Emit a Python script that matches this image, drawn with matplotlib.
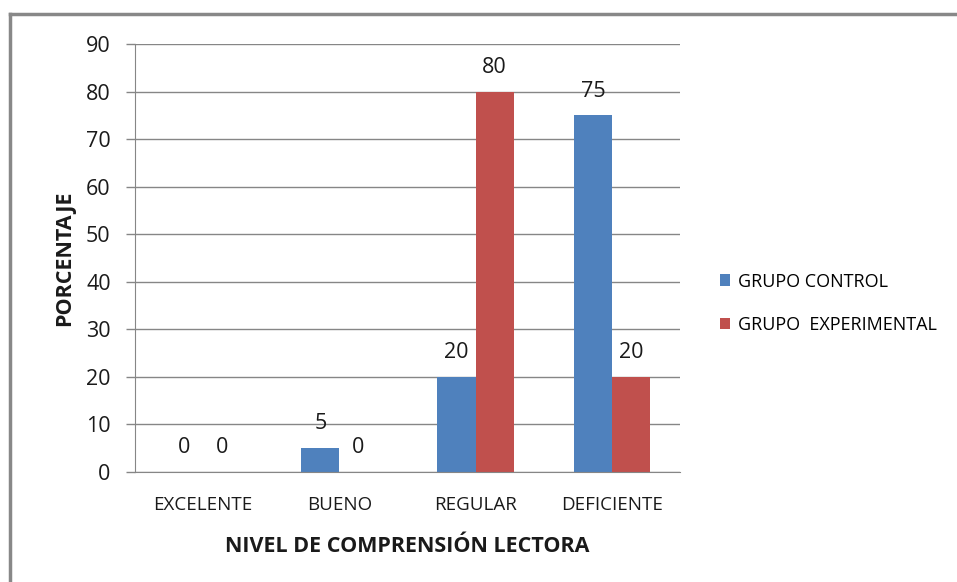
import matplotlib
matplotlib.use("Agg")
import matplotlib.pyplot as plt
from matplotlib.lines import Line2D
import numpy as np

categories = ["EXCELENTE", "BUENO", "REGULAR", "DEFICIENTE"]
control = [0, 5, 20, 75]
experimental = [0, 0, 80, 20]
series_names = ["GRUPO CONTROL", "GRUPO  EXPERIMENTAL"]
yticks = [0, 10, 20, 30, 40, 50, 60, 70, 80, 90]

plt.rcParams['font.family'] = ["Open Sans", 'DejaVu Sans']

fig = plt.figure(figsize=(9.57, 5.82), dpi=100)
ax = fig.add_axes([0.141, 0.189, 0.5696, 0.7354])

blue = "#4F81BD"
red = "#C0504D"
grid_c = "#868686"
txt_c = "#1a1a1a"
x = np.arange(len(categories))
w = 0.28
b1 = ax.bar(x - w/2, control, w, color=blue, label=series_names[0], zorder=3)
b2 = ax.bar(x + w/2, experimental, w, color=red, label=series_names[1], zorder=3)

for bars, vals in ((b1, control), (b2, experimental)):
    for r, v in zip(bars, vals):
        ax.annotate(str(v), (r.get_x() + r.get_width()/2, v), xytext=(0, 17.5),
                    textcoords="offset points", ha="center", va="center",
                    fontsize=15.5, color=txt_c)

ax.set_xlim(-0.5, len(categories) - 0.5)
ax.set_ylim(0, 90)
ax.set_yticks(yticks)
ax.set_yticklabels([str(t) for t in yticks], fontsize=15.5, color=txt_c)
ax.set_xticks(x)
ax.set_xticklabels(categories, fontsize=13.5, color=txt_c)
ax.tick_params(axis='x', length=0, pad=17)
ax.tick_params(axis='y', length=6.5, color=grid_c, width=1, pad=11)
ax.yaxis.grid(True, color=grid_c, linewidth=1, zorder=0)
for s in ("top", "right"):
    ax.spines[s].set_visible(False)
ax.spines["left"].set_color(grid_c)
ax.spines["bottom"].set_color(grid_c)
ax.spines["left"].set_zorder(4)
ax.spines["bottom"].set_zorder(4)

ax.set_ylabel("PORCENTAJE", fontsize=15.5, fontweight="bold", labelpad=8, color=txt_c)
ax.set_xlabel("NIVEL DE COMPRENSIÓN LECTORA", fontsize=15.5, fontweight="bold", labelpad=16, color=txt_c)

leg = fig.legend(handles=[b1, b2], labels=series_names, loc="center left",
                 bbox_to_anchor=(0.752, 0.479), frameon=False, fontsize=13,
                 handlelength=0.6, handleheight=0.6, handletextpad=0.4, labelspacing=1.4,
                 borderaxespad=0, borderpad=0)

fig.add_artist(Line2D([9.5/957, 9.5/957], [0, 1 - 14/582], color="#888888", lw=2.5, transform=fig.transFigure))
fig.add_artist(Line2D([9.5/957, 1], [1 - 14/582, 1 - 14/582], color="#888888", lw=2.5, transform=fig.transFigure))

fig.savefig("out.png", dpi=100)
